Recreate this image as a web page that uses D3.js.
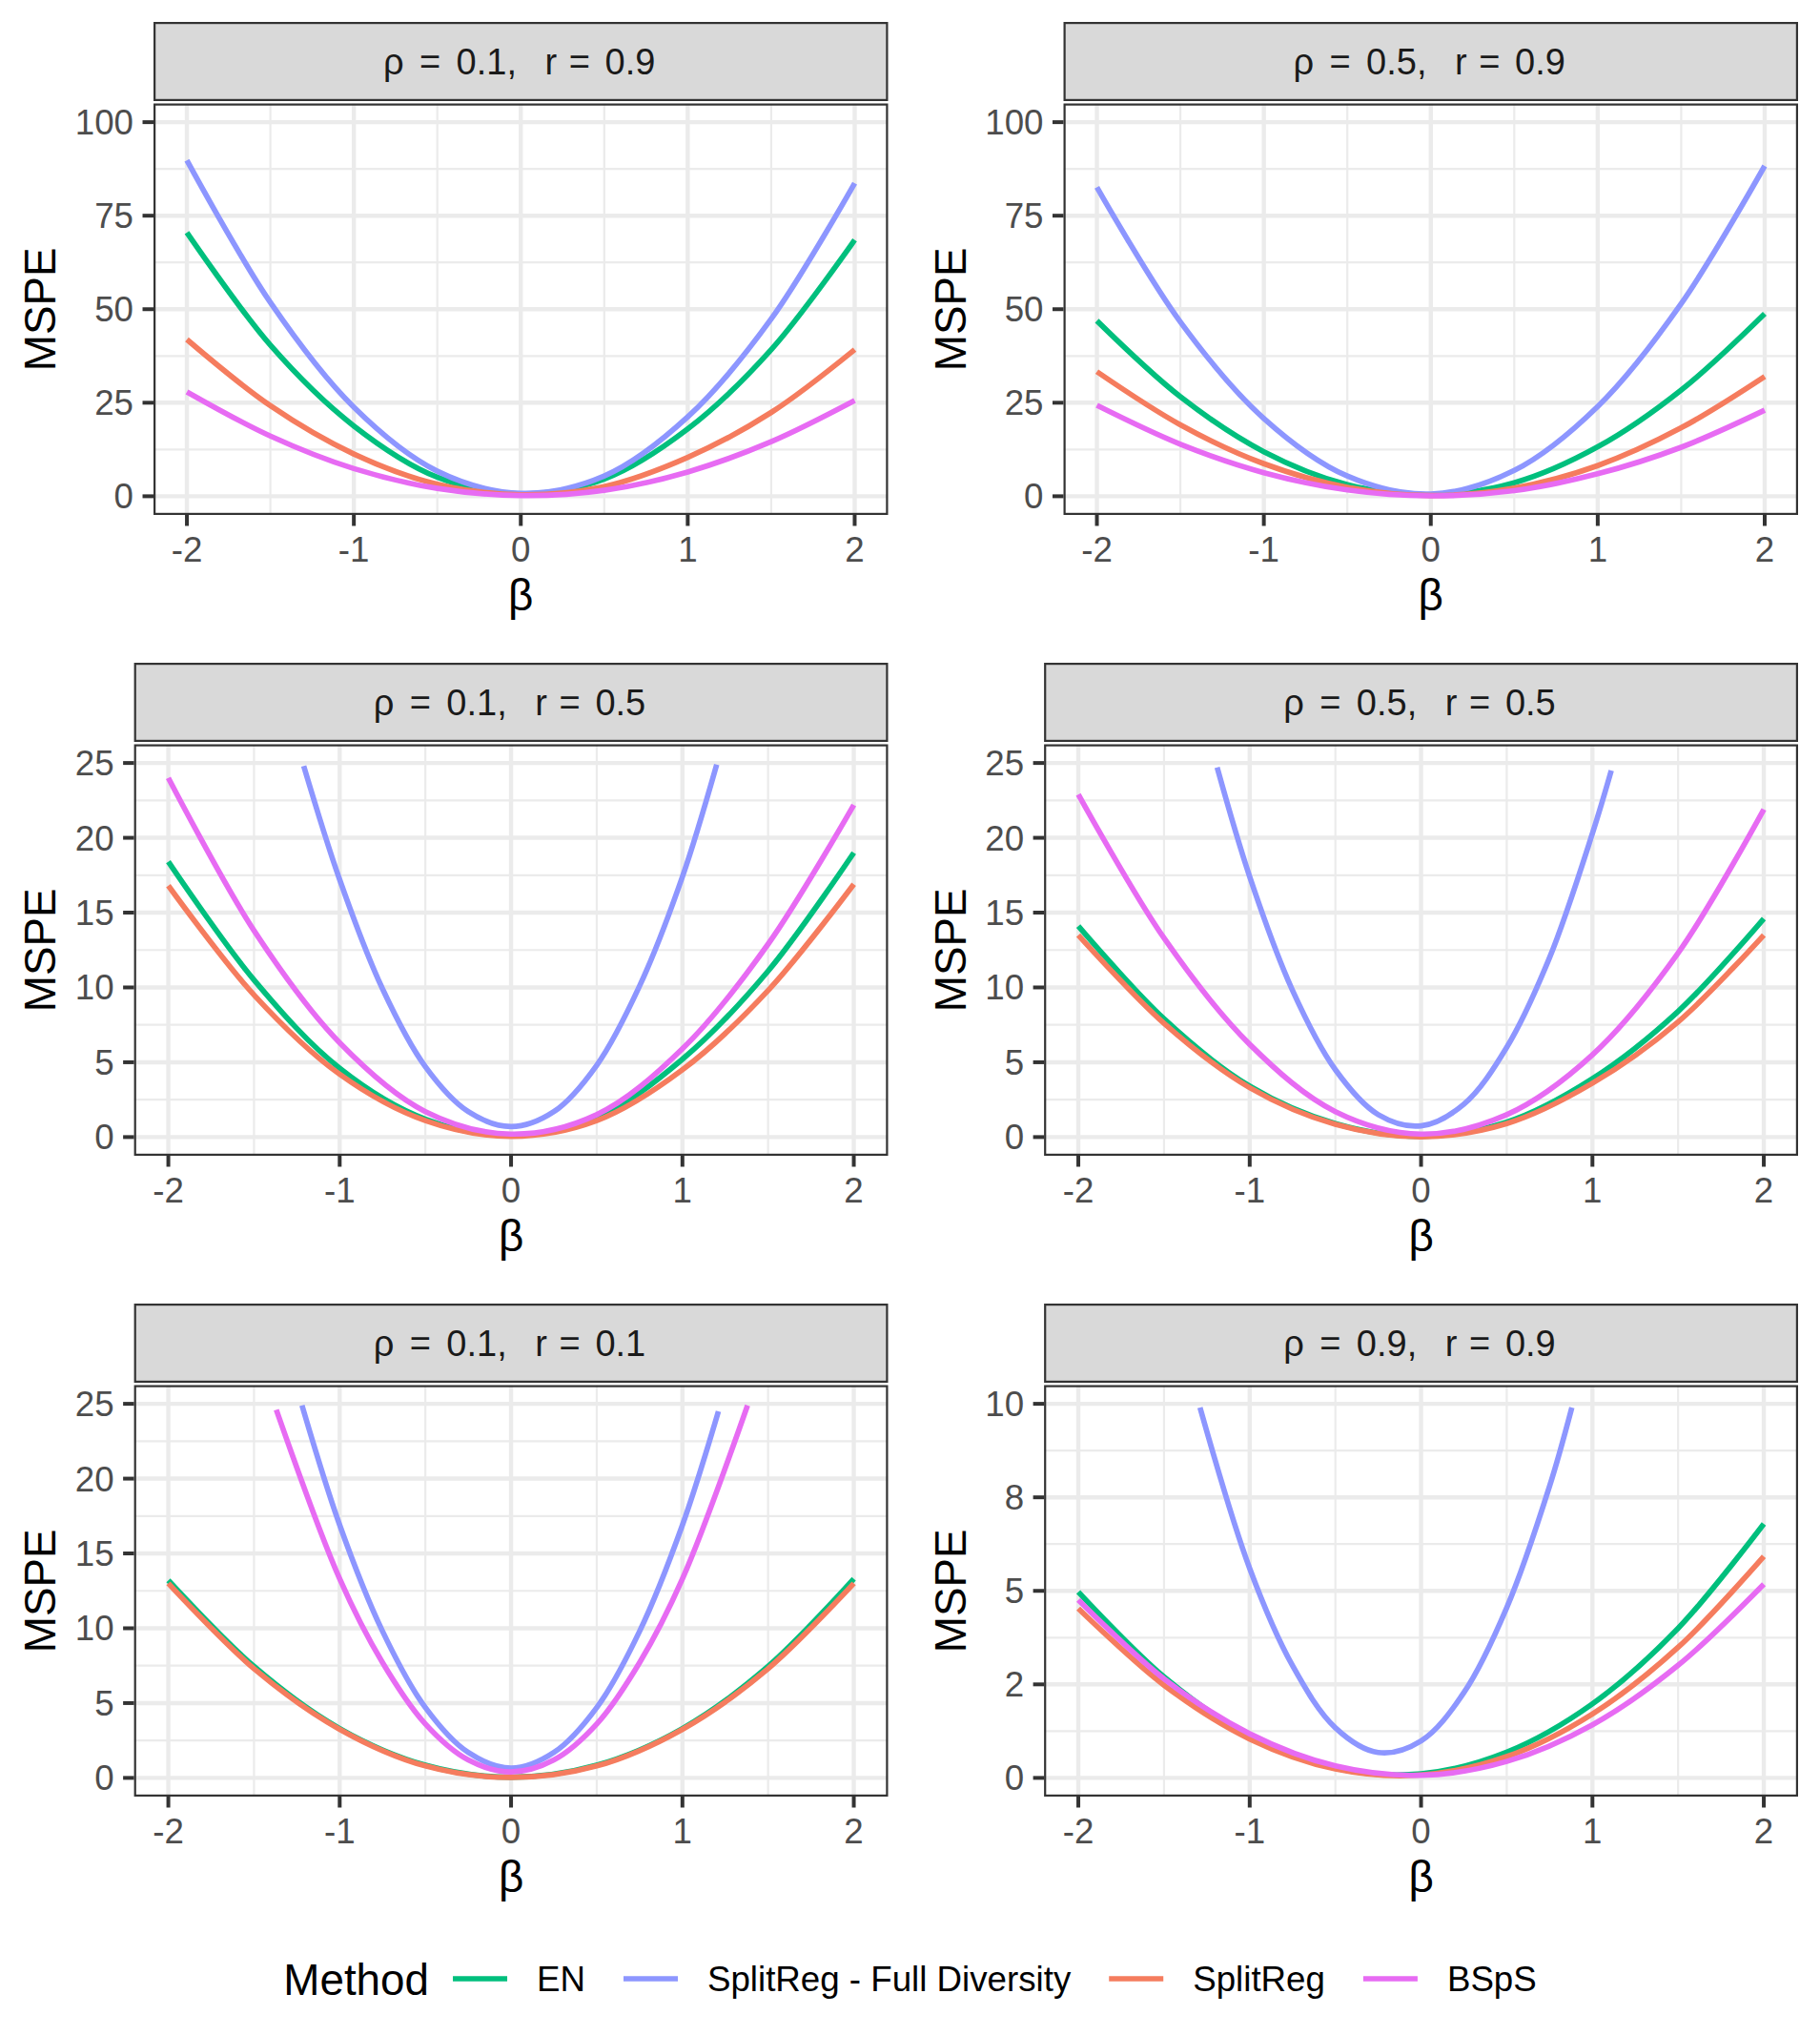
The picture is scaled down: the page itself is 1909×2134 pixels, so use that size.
<!DOCTYPE html>
<html>
<head>
<meta charset="utf-8">
<script src="https://cdn.jsdelivr.net/npm/d3@7"></script>
<style>
  body { margin: 0; background: #fff; }
  text { font-family: "Liberation Sans", Arial, sans-serif; }
</style>
</head>
<body>
<div id="chart"></div>
<script>
'use strict';

// ---- data ----
var methods = ['EN', 'SplitReg - Full Diversity', 'SplitReg', 'BSpS'];
var methodColors = ['#00BF7D', '#8D96FF', '#F57C5E', '#E76BF3'];

// facet labels: rho and r of each panel
var stripRho = ['0.1', '0.5', '0.1', '0.5', '0.1', '0.9'];
var stripR = ['0.9', '0.9', '0.5', '0.5', '0.1', '0.9'];

var xBreaks = [-2, -1, 0, 1, 2];
var yBreaks100 = [0, 25, 50, 75, 100];
var yBreaks25 = [0, 5, 10, 15, 20, 25];
var yBreaks10 = [0, 2.5, 5, 7.5, 10];
var yLabels10 = ['0', '2', '5', '8', '10'];

var betaGrid = [-2, -1.5, -1, -0.5, 0, 0.5, 1, 1.5, 2];

// panel 1: rho = 0.1, r = 0.9
var p1EN = [70.5, 40.4, 18.8, 5.1, 0.6, 4.6, 18.0, 39.2, 68.5];
var p1FD = [89.8, 51.8, 23.8, 6.7, 0.8, 5.4, 21.2, 47.4, 83.7];
var p1SR = [41.9, 24.2, 11.3, 3.2, 0.4, 2.6, 10.4, 22.4, 39.2];
var p1BS = [27.9, 16.1, 7.4, 2.1, 0.2, 1.6, 6.5, 14.6, 25.6];

// panel 2: rho = 0.5, r = 0.9
var p2EN = [46.9, 26.6, 11.9, 3.1, 0.3, 3.6, 13.2, 28.4, 48.8];
var p2FD = [82.6, 46.6, 20.8, 5.4, 0.6, 6.9, 24.0, 51.5, 88.3];
var p2SR = [33.3, 19.1, 8.7, 2.4, 0.2, 2.2, 8.2, 18.3, 32.0];
var p2BS = [24.3, 13.9, 6.3, 1.7, 0.1, 1.5, 6.0, 13.1, 23.0];

// panel 3: rho = 0.1, r = 0.5
var p3EN = [18.4, 10.5, 4.6, 1.2, 0.1, 1.3, 5.2, 11.1, 19.0];
var p3SR = [16.8, 9.5, 4.2, 1.1, 0.05, 1.1, 4.5, 9.8, 16.9];
var p3BS = [24.0, 13.8, 6.3, 1.7, 0.2, 1.5, 5.9, 12.9, 22.2];
var p3FDBeta = [-1.21, -1, -0.75, -0.5, -0.25, 0, 0.25, 0.5, 0.75, 1, 1.2];
var p3FD = [24.8, 17.2, 9.9, 4.7, 1.7, 0.7, 1.7, 4.8, 10.1, 17.4, 24.9];

// panel 4: rho = 0.5, r = 0.5
var p4EN = [14.1, 7.9, 3.4, 0.9, 0.05, 1.0, 3.9, 8.4, 14.6];
var p4SR = [13.5, 7.6, 3.3, 0.85, 0.02, 0.9, 3.6, 7.7, 13.5];
var p4BS = [22.9, 13.3, 6.2, 1.7, 0.2, 1.5, 5.5, 12.3, 21.9];
var p4FDBeta = [-1.19, -1, -0.75, -0.5, -0.25, 0, 0.25, 0.5, 0.75, 1, 1.11];
var p4FD = [24.7, 17.4, 9.8, 4.5, 1.5, 0.75, 2.2, 6.0, 12.0, 20.3, 24.5];

// panel 5: rho = 0.1, r = 0.1
var p5EN = [13.2, 7.45, 3.3, 0.85, 0.05, 0.85, 3.3, 7.45, 13.3];
var p5SR = [13.0, 7.3, 3.25, 0.8, 0.03, 0.8, 3.25, 7.3, 13.0];
var p5FDBeta = [-1.22, -1, -0.75, -0.5, -0.25, 0, 0.25, 0.5, 0.75, 1, 1.21];
var p5FD = [24.9, 16.9, 9.8, 4.7, 1.7, 0.65, 1.7, 4.7, 9.8, 16.9, 24.5];
var p5BSBeta = [-1.37, -1, -0.75, -0.5, -0.25, 0, 0.25, 0.5, 0.75, 1, 1.38];
var p5BS = [24.6, 13.3, 7.7, 3.6, 1.2, 0.4, 1.2, 3.6, 7.7, 13.3, 24.9];

// panel 6: rho = 0.9, r = 0.9
var p6EN = [4.97, 2.7, 1.12, 0.26, 0.11, 0.69, 1.98, 4.0, 6.79];
var p6SR = [4.53, 2.48, 1.04, 0.24, 0.08, 0.57, 1.71, 3.49, 5.92];
var p6BS = [4.76, 2.65, 1.18, 0.32, 0.07, 0.44, 1.42, 3.01, 5.18];
var p6FDBeta = [-1.29, -1, -0.75, -0.5, -0.25, 0, 0.25, 0.5, 0.75, 0.88];
var p6FD = [9.9, 5.6, 3.0, 1.34, 0.68, 0.99, 2.28, 4.55, 7.8, 9.9];

// ---- layout ----
var W = 1909, H = 2134
  , cellW = W / 2
  , cellH = 672
  , margin = 23
  , tickLen = 11.5
  , font = '"Liberation Sans", Arial, sans-serif'
  , tickSize = 36.7
  , stripSize = 38
  , titleSize = 45.8;

// plotmath-like spacing of the strip label pieces (in em, from the centre)
var stripPieceOffsets = [-3.51, -2.505, -0.947, 0.829, 1.618, 3.02];

var panels = [
  { yMax: 100, breaks: yBreaks100, labels: null,
    series: [[betaGrid, p1EN], [betaGrid, p1FD], [betaGrid, p1SR], [betaGrid, p1BS]] },
  { yMax: 100, breaks: yBreaks100, labels: null,
    series: [[betaGrid, p2EN], [betaGrid, p2FD], [betaGrid, p2SR], [betaGrid, p2BS]] },
  { yMax: 25, breaks: yBreaks25, labels: null,
    series: [[betaGrid, p3EN], [p3FDBeta, p3FD], [betaGrid, p3SR], [betaGrid, p3BS]] },
  { yMax: 25, breaks: yBreaks25, labels: null,
    series: [[betaGrid, p4EN], [p4FDBeta, p4FD], [betaGrid, p4SR], [betaGrid, p4BS]] },
  { yMax: 25, breaks: yBreaks25, labels: null,
    series: [[betaGrid, p5EN], [p5FDBeta, p5FD], [betaGrid, p5SR], [p5BSBeta, p5BS]] },
  { yMax: 10, breaks: yBreaks10, labels: yLabels10,
    series: [[betaGrid, p6EN], [p6FDBeta, p6FD], [betaGrid, p6SR], [betaGrid, p6BS]] }
];

var svg = d3.select('#chart').append('svg')
  .attr('width', W)
  .attr('height', H)
  .style('background', '#fff');

svg.append('rect').attr('width', W).attr('height', H).attr('fill', '#fff');

// measure text width with the real font
function textWidth(str, size) {
  var t = svg.append('text').style('font-size', size + 'px').style('font-family', font).text(str);
  var w = t.node().getComputedTextLength();
  t.remove();
  return w;
}

function mids(arr) {
  return d3.pairs(arr).map(function (p) { return (p[0] + p[1]) / 2; });
}

panels.forEach(function (p, i) {
  var row = Math.floor(i / 2)
    , col = i % 2
    , cx = col * cellW
    , cy = row * cellH
    , labels = p.labels || p.breaks.map(function (b) { return String(b); })
    , labelW = d3.max(labels, function (l) { return textWidth(l, tickSize); })
    , left = cx + 99.8 + labelW
    , right = cx + cellW - margin
    , stripTop = cy + margin
    , stripBot = cy + 106
    , top = cy + 108.5
    , bottom = cy + 540;

  var x = d3.scaleLinear().domain([-2.2, 2.2]).range([left, right]);
  var y = d3.scaleLinear().domain([-0.05 * p.yMax, 1.05 * p.yMax]).range([bottom, top]);

  var g = svg.append('g').attr('class', 'panel');

  // strip
  g.append('rect')
    .attr('x', left + 1.1).attr('y', stripTop + 1.1)
    .attr('width', right - left - 2.2).attr('height', stripBot - stripTop - 2.2)
    .attr('fill', '#D9D9D9').attr('stroke', '#333333').attr('stroke-width', 2.2);
  var pieces = ['ρ', '=', stripRho[i] + ',', 'r', '=', stripR[i]]
    , midX = (left + right) / 2;
  g.append('text')
    .attr('y', (stripTop + stripBot) / 2 + 13.5)
    .attr('text-anchor', 'middle')
    .style('font-size', stripSize + 'px')
    .attr('fill', '#1A1A1A')
    .selectAll('tspan').data(pieces).enter().append('tspan')
      .attr('x', function (d, j) { return midX + stripPieceOffsets[j] * stripSize; })
      .text(function (d) { return d; });

  // panel background + clip
  var clipId = 'clip' + i;
  g.append('clipPath').attr('id', clipId)
    .append('rect').attr('x', left).attr('y', top).attr('width', right - left).attr('height', bottom - top);
  g.append('rect').attr('x', left).attr('y', top).attr('width', right - left).attr('height', bottom - top).attr('fill', '#fff');

  var inner = g.append('g').attr('clip-path', 'url(#' + clipId + ')');

  // minor grid
  inner.selectAll('line.ymin').data(mids(p.breaks)).enter().append('line')
    .attr('x1', left).attr('x2', right)
    .attr('y1', function (d) { return y(d); }).attr('y2', function (d) { return y(d); })
    .attr('stroke', '#EBEBEB').attr('stroke-width', 2.2);
  inner.selectAll('line.xmin').data(mids(xBreaks)).enter().append('line')
    .attr('y1', top).attr('y2', bottom)
    .attr('x1', function (d) { return x(d); }).attr('x2', function (d) { return x(d); })
    .attr('stroke', '#EBEBEB').attr('stroke-width', 2.2);
  // major grid
  inner.selectAll('line.ymaj').data(p.breaks).enter().append('line')
    .attr('x1', left).attr('x2', right)
    .attr('y1', function (d) { return y(d); }).attr('y2', function (d) { return y(d); })
    .attr('stroke', '#EBEBEB').attr('stroke-width', 4.4);
  inner.selectAll('line.xmaj').data(xBreaks).enter().append('line')
    .attr('y1', top).attr('y2', bottom)
    .attr('x1', function (d) { return x(d); }).attr('x2', function (d) { return x(d); })
    .attr('stroke', '#EBEBEB').attr('stroke-width', 4.4);

  // curves
  var line = d3.line()
    .x(function (d) { return x(d[0]); })
    .y(function (d) { return y(d[1]); })
    .curve(d3.curveCatmullRom.alpha(0.5));

  p.series.forEach(function (s, k) {
    var pts = d3.zip(s[0], s[1]);
    inner.append('path')
      .attr('d', line(pts))
      .attr('fill', 'none')
      .attr('stroke', methodColors[k])
      .attr('stroke-width', 5.7)
      .attr('stroke-linejoin', 'round')
      .attr('stroke-linecap', 'butt');
  });

  // panel border
  g.append('rect')
    .attr('x', left + 1.1).attr('y', top + 1.1)
    .attr('width', right - left - 2.2).attr('height', bottom - top - 2.2)
    .attr('fill', 'none').attr('stroke', '#333333').attr('stroke-width', 2.2);

  // y axis ticks + labels
  g.selectAll('line.ytick').data(p.breaks).enter().append('line')
    .attr('x1', left - tickLen).attr('x2', left)
    .attr('y1', function (d) { return y(d); }).attr('y2', function (d) { return y(d); })
    .attr('stroke', '#333333').attr('stroke-width', 4);
  g.selectAll('text.ylab').data(p.breaks).enter().append('text')
    .attr('x', left - tickLen - 9.5)
    .attr('y', function (d) { return y(d) + 13; })
    .attr('text-anchor', 'end')
    .style('font-size', tickSize + 'px')
    .attr('fill', '#4D4D4D')
    .text(function (d, j) { return labels[j]; });

  // x axis ticks + labels
  g.selectAll('line.xtick').data(xBreaks).enter().append('line')
    .attr('y1', bottom).attr('y2', bottom + tickLen)
    .attr('x1', function (d) { return x(d); }).attr('x2', function (d) { return x(d); })
    .attr('stroke', '#333333').attr('stroke-width', 4);
  g.selectAll('text.xlab').data(xBreaks).enter().append('text')
    .attr('x', function (d) { return x(d); })
    .attr('y', bottom + 49)
    .attr('text-anchor', 'middle')
    .style('font-size', tickSize + 'px')
    .attr('fill', '#4D4D4D')
    .text(function (d) { return String(d); });

  // axis titles
  g.append('text')
    .attr('x', (left + right) / 2)
    .attr('y', cy + 640)
    .attr('text-anchor', 'middle')
    .style('font-size', titleSize + 'px')
    .attr('fill', '#000')
    .text('β');
  g.append('text')
    .attr('transform', 'translate(' + (cx + 58) + ',' + ((top + bottom) / 2) + ') rotate(-90)')
    .attr('text-anchor', 'middle')
    .style('font-size', titleSize + 'px')
    .attr('fill', '#000')
    .text('MSPE');
});

// ---- legend (bottom, centred) ----
var legendY = 2075
  , keyLen = 57
  , keyGap = 31
  , itemGap = 40
  , titleGap = 25
  , titleW = textWidth('Method', titleSize)
  , labelWs = methods.map(function (m) { return textWidth(m, tickSize); })
  , total = titleW + titleGap + methods.length * (keyLen + keyGap) + d3.sum(labelWs) + (methods.length - 1) * itemGap
  , lx = W / 2 - total / 2;

var legend = svg.append('g').attr('class', 'legend');
legend.append('text')
  .attr('x', lx).attr('y', legendY + 17)
  .style('font-size', titleSize + 'px')
  .attr('fill', '#000')
  .text('Method');
lx += titleW + titleGap;

methods.forEach(function (m, k) {
  legend.append('line')
    .attr('x1', lx).attr('x2', lx + keyLen)
    .attr('y1', legendY).attr('y2', legendY)
    .attr('stroke', methodColors[k]).attr('stroke-width', 5.7);
  lx += keyLen + keyGap;
  legend.append('text')
    .attr('x', lx).attr('y', legendY + 13)
    .style('font-size', tickSize + 'px')
    .attr('fill', '#000')
    .text(m);
  lx += labelWs[k] + itemGap;
});
</script>
</body>
</html>
